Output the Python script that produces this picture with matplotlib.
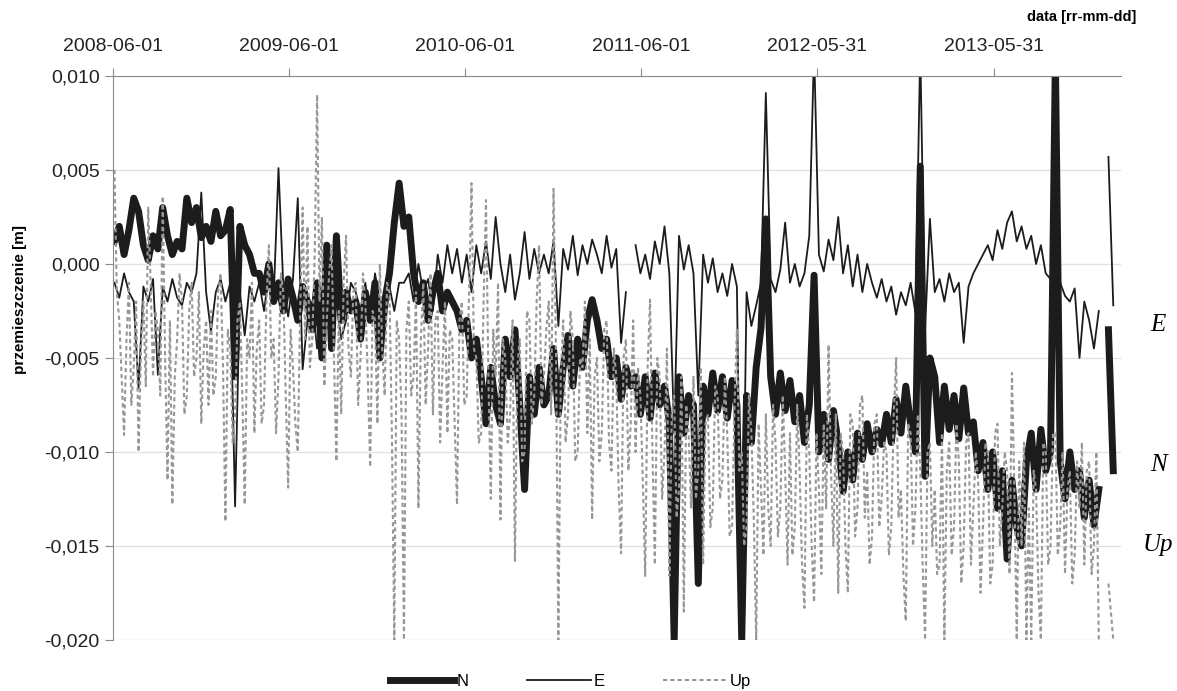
import numpy as np
import pandas as pd
import matplotlib
matplotlib.use('Agg')
import matplotlib.pyplot as plt
import matplotlib.ticker as mticker

plt.rcParams['font.family'] = ['Liberation Sans', 'DejaVu Sans']

# values in units of 0.1 mm (N and E every 10 days, Up every 5 days)
start = '2008-06-04'

n_vals = [12, 20, 5, 18, 35, 28, 10, 2, 15, 8,
          30, 15, 5, 12, 8, 35, 22, 30, 14, 20,
          12, 28, 15, 18, 29, -60, 20, 10, 5, -5,
          -5, -15, 0, -20, -10, -25, -8, -18, -30, -12,
          -20, -35, -10, -50, 10, -45, 15, -30, -15, -25,
          -20, -40, -15, -30, -10, -50, -20, -5, 22, 43,
          20, 25, -5, -20, -10, -30, -15, -5, -25, -15,
          -20, -25, -35, -30, -50, -40, -60, -85, -55, -75,
          -85, -40, -60, -35, -75, -120, -60, -80, -55, -75,
          -70, -45, -80, -55, -38, -65, -40, -55, -30, -19,
          -30, -45, -40, -60, -50, -72, -55, -65, -60, -80,
          -60, -82, -58, -75, -65, -84, -200, -60, -90, -70,
          -75, -170, -65, -80, -58, -78, -60, -82, -62, -75,
          -200, -70, -95, -55, -34, 24, -60, -80, -58, -78,
          -62, -84, -70, -95, -75, -6, -100, -80, -104, -78,
          -95, -121, -100, -115, -90, -104, -85, -100, -88, -96,
          -80, -95, -72, -90, -65, -85, -100, 52, -113, -50,
          -60, -95, -65, -88, -70, -93, -66, -90, -84, -110,
          -95, -120, -100, -130, -110, -157, -115, -140, -150, -105,
          -90, -120, -88, -110, -100, 110, -105, -125, -100, -120,
          -110, -135, -115, -139, -120, None, -35, -110]

e_vals = [-10, -18, -5, -15, -20, -66, -12, -20, -8, -59,
          -12, -20, -8, -18, -22, -10, -15, -5, 38, -15,
          -36, -15, -8, -20, -10, -129, -15, -38, -12, -20,
          -10, -25, -5, -18, 51, -12, -28, -8, 35, -56,
          -30, -20, -45, -25, -15, -35, -20, -40, -30, -10,
          -15, -25, -10, -30, -5, -20, -35, -12, -25, -10,
          -10, -5, -20, 0, -15, -8, -25, 5, -10, 10,
          -5, 8, -10, 5, -15, 10, -5, 12, -8, 25,
          0, -15, 5, -19, -5, 17, -8, 8, -5, 5,
          -5, 12, -33, 8, -3, 15, -6, 10, 0, 13,
          5, -5, 15, -2, 8, -42, -15, None, 10, -5,
          5, -8, 12, 0, 20, -5, -90, 15, -3, 10,
          -5, -70, 5, -10, 3, -15, -5, -17, 0, -12,
          -200, -15, -33, -22, -10, 91, -8, -15, -3, 22,
          -10, 0, -12, -5, 15, 115, 5, -4, 13, 2,
          25, -5, 10, -12, 5, -15, 0, -10, -18, -8,
          -20, -12, -27, -15, -22, -10, -26, 115, -35, 24,
          -15, -8, -20, -5, -15, -10, -42, -12, -5, 0,
          5, 10, 2, 18, 8, 22, 28, 12, 20, 8,
          15, 0, 10, -5, -8, -15, -10, -17, -20, -13,
          -50, -20, -30, -45, -25, None, 57, -22]

up_vals = [50, -15, -30, -60, -91, -40, -10, -75, -55, -20, -100, -45, -20, -65, 30, -10, -60, -25, -35, -70,
           36, -50, -115, -30, -128, -60, -40, -5, -20, -80, -70, -25, -10, -60, -50, -15, -85, -45, -30, -75,
           -25, -70, -60, -15, -5, -55, -137, -35, -45, -95, -80, -30, -20, -70, -128, -40, -50, -10, -90, -45,
           -30, -85, -75, -20, 10, -50, -40, -90, -60, -5, -15, -70, -119, -35, -55, -85, -100, -25, 30, -40,
           20, -55, -40, 5, 90, -20, 25, -65, -30, -5, 10, -50, -105, -25, -80, -10, 15, -45, -60, -15,
           -10, -75, -50, -5, -20, -60, -108, -25, -30, -85, 0, -45, -70, -10, -15, -90, -200, -30, -40, -80,
           -200, -35, -20, -70, -60, -15, -130, -40, -10, -75, -45, -5, -80, -30, -25, -95, -55, -20, -90, -35,
           -40, -85, -128, -30, -20, -75, -70, -15, 43, -45, -50, -95, -90, -20, 34, -60, -125, -35, -60, -10,
           -136, -40, -50, -95, -80, -30, -158, -55, -40, -105, -100, -25, -30, -85, -70, -20, 10, -75, -60, -35,
           -20, -80, 40, -45, -200, -60, -30, -95, -80, -25, -40, -105, -100, -50, -55, -20, -90, -40, -136, -60,
           -50, -105, -90, -35, -30, -95, -110, -45, -60, -120, -154, -50, -40, -110, -85, -30, -100, -55, -70, -115,
           -166, -55, -19, -100, -160, -50, -60, -125, -100, -45, -166, -80, -70, -135, -120, -60, -185, -75, -90, -130,
           -60, -125, -110, -55, -160, -85, -80, -140, -130, -65, -70, -125, -115, -60, -90, -145, -140, -75, -35, -110,
           -100, -150, -140, -70, -90, -135, -200, -85, -120, -155, -80, -130, -150, -75, -95, -145, -130, -70, -110, -160,
           -90, -155, -140, -75, -110, -160, -183, -80, -100, -150, -180, -90, -120, -165, -85, -130, -43, -110, -150, -80,
           -175, -90, -100, -150, -175, -80, -85, -145, -130, -75, -70, -135, -110, -160, -145, -85, -80, -140, -125, -95,
           -100, -155, -140, -80, -50, -135, -120, -165, -190, -85, -90, -150, -130, -80, -110, -160, -200, -100, -95, -150,
           -120, -165, -160, -90, -200, -110, -95, -155, -140, -85, -105, -170, -150, -95, -90, -160, -130, -100, -115, -175,
           -140, -95, -100, -170, -160, -90, -85, -150, -130, -100, -110, -165, -58, -120, -200, -105, -150, -95, -200, -130,
           -200, -110, -120, -175, -200, -95, -100, -160, -150, -90, -90, -155, -140, -100, -165, -120, -110, -170, -155, -105,
           -130, -95, -160, -110, -105, -165, -150, -100, -200, None, None, None, -170, -185, -200]

tick_dates = ['2008-06-01', '2009-06-01', '2010-06-01', '2011-06-01',
              '2012-05-31', '2013-05-31']
x_start = '2008-06-01'
x_end = '2014-02-18'

dates_ne = pd.date_range(start, periods=len(n_vals), freq='10D')
dates_up = pd.date_range(start, periods=len(up_vals), freq='5D')
n = np.array(n_vals, dtype=float) * 1e-4
e = np.array(e_vals, dtype=float) * 1e-4
up = np.array(up_vals, dtype=float) * 1e-4

fig = plt.figure(figsize=(11.77, 6.91), dpi=100)
ax = fig.add_axes([0.096, 0.074, 0.856, 0.816])

ax.plot(dates_ne, n, color='#1c1c1c', lw=5, label='N')
ax.plot(dates_ne, e, color='#1c1c1c', lw=1.3, label='E')
ax.plot(dates_up, up, color='#96969b', lw=1.5, ls=(0, (2, 1.5)), label='Up')

ax.set_ylim(-0.020, 0.010)
ax.set_xlim(pd.Timestamp(x_start), pd.Timestamp(x_end))
ax.yaxis.set_major_locator(mticker.MultipleLocator(0.005))
ax.yaxis.set_major_formatter(mticker.FuncFormatter(
    lambda v, p: ('%.3f' % (0 if abs(v) < 1e-9 else v)).replace('.', ',')))
ax.set_xticks(pd.to_datetime(tick_dates))
ax.set_xticklabels(tick_dates)
ax.xaxis.tick_top()

for s in ['right', 'bottom']:
    ax.spines[s].set_visible(False)
for s in ['top', 'left']:
    ax.spines[s].set_color('#8a8a8a')
ax.tick_params(axis='both', colors='#8a8a8a', labelcolor='#222222',
               labelsize=14, length=6, direction='out')
ax.tick_params(axis='x', pad=9)
ax.yaxis.grid(True, color='#e2e2e2', lw=1)
ax.set_axisbelow(True)

fig.text(20 / 1177, 1 - 300 / 691, 'przemieszczenie [m]', rotation=90,
         ha='center', va='center', fontsize=11, fontweight='bold')
fig.text(1136 / 1177, 1 - 17 / 691, 'data [rr-mm-dd]', ha='right',
         va='center', fontsize=10.5, fontweight='bold')

for lab, yy in [('E', 325), ('N', 465), ('Up', 545)]:
    fig.text(1158 / 1177, 1 - yy / 691, lab, family='Liberation Serif',
             style='italic', fontsize=18, ha='center', va='center')

fig.legend(loc='center', bbox_to_anchor=(0.485, 0.014), ncol=3,
           frameon=False, fontsize=12, handlelength=3.8,
           columnspacing=3.5, handletextpad=0.2)

fig.savefig('out.png', dpi=100)
